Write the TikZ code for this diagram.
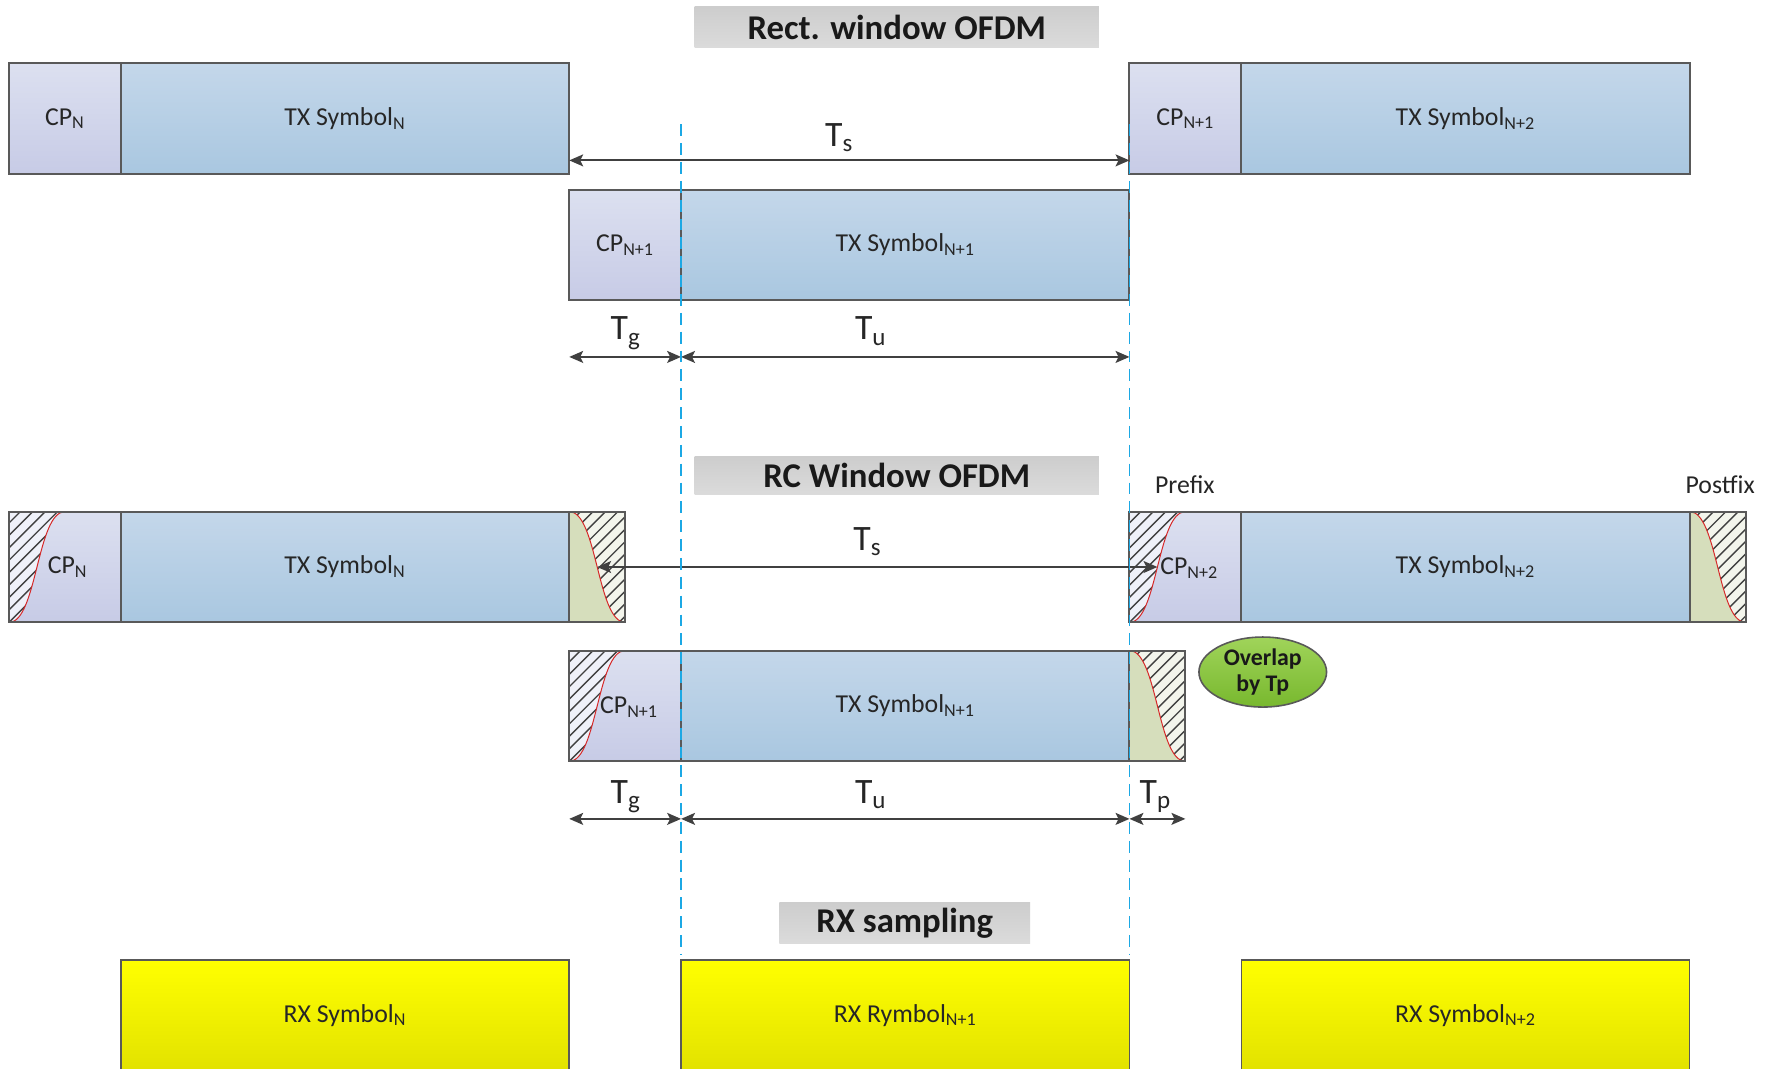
\documentclass[tikz,border=0pt]{standalone}
\usepackage{fontspec}
\setmainfont{Carlito}
\usetikzlibrary{arrows.meta,shapes.geometric}

% palette
\definecolor{cpTop}{RGB}{220,224,240}
\definecolor{cpBot}{RGB}{199,203,230}
\definecolor{symTop}{RGB}{196,215,234}
\definecolor{symBot}{RGB}{169,199,224}
\definecolor{tailGreen}{RGB}{214,222,188}
\definecolor{hatchBgA}{RGB}{239,241,249}
\definecolor{hatchBgB}{RGB}{243,245,236}
\definecolor{edgeGray}{RGB}{89,89,89}
\definecolor{dimGray}{RGB}{64,64,64}
\definecolor{guideBlue}{RGB}{28,168,228}
\definecolor{rxTop}{RGB}{255,255,0}
\definecolor{rxBot}{RGB}{226,226,0}
\definecolor{headTop}{RGB}{205,205,205}
\definecolor{headBot}{RGB}{219,219,219}
\definecolor{ovlTop}{RGB}{160,212,90}
\definecolor{ovlBot}{RGB}{120,184,46}
\definecolor{curveRed}{RGB}{214,40,40}

\newcommand\lowsub[1]{\textsubscript{#1}}

\tikzset{
  segment/.style 2 args={inner sep=0pt, outer sep=0pt, anchor=north west,
      minimum width=#1*0.2mm, minimum height=#2*0.2mm,
      font=\fontsize{13}{15}\selectfont, text=black!85},
  cpseg/.style={top color=cpTop, bottom color=cpBot},
  symseg/.style={top color=symTop, bottom color=symBot},
  rxseg/.style={top color=rxTop, bottom color=rxBot, draw=edgeGray, line width=0.8pt},
  frame/.style={draw=edgeGray, line width=1pt},
  heading/.style 2 args={top color=headTop, bottom color=headBot, inner sep=0pt,
      minimum width=#1*0.2mm, minimum height=#2*0.2mm,
      font=\fontsize{17.5}{20}\selectfont\bfseries, text=black!90},
  lab/.style={inner sep=0pt, font=\fontsize{13}{15}\selectfont, text=black!85},
  dimlabel/.style={inner sep=0pt, anchor=base, font=\fontsize{18}{20}\selectfont, text=black!85},
  dimarrow/.style={draw=dimGray, line width=1pt, >={Stealth[length=7pt,width=6pt,inset=1.5pt]}, <->},
  guide/.style={draw=guideBlue, line width=0.9pt, dash pattern=on 6pt off 3.5pt},
  hatch/.style={draw=dimGray, line width=0.7pt},
  wcurve/.style={draw=curveRed, line width=0.5pt},
}

% rising raised-cosine edge (prefix): left x, top y
\newcommand\rampup[2]{%
  \begin{scope}
    \clip (#1,#2+98) .. controls (#1+24.75,#2+98) and (#1+24.75,#2) .. (#1+49.5,#2) -- (#1,#2) -- cycle;
    \fill[hatchBgA] (#1,#2) rectangle (#1+49.5,#2+98);
    \foreach \k in {0,...,15} \draw[hatch] (#1-110+\k*11,#2+98) -- ++(110,-110);
  \end{scope}
  \draw[wcurve] (#1,#2+98) .. controls (#1+24.75,#2+98) and (#1+24.75,#2) .. (#1+49.5,#2);
}

% falling raised-cosine edge (postfix): left x, top y
\newcommand\rampdown[2]{%
  \fill[tailGreen] (#1,#2) .. controls (#1+24.75,#2) and (#1+24.75,#2+98) .. (#1+49.5,#2+98) -- (#1,#2+98) -- cycle;
  \begin{scope}
    \clip (#1,#2) .. controls (#1+24.75,#2) and (#1+24.75,#2+98) .. (#1+49.5,#2+98) -- (#1+49.5,#2) -- cycle;
    \fill[hatchBgB] (#1,#2) rectangle (#1+49.5,#2+98);
    \foreach \k in {0,...,15} \draw[hatch] (#1-110+\k*11,#2+98) -- ++(110,-110);
  \end{scope}
  \draw[wcurve] (#1,#2) .. controls (#1+24.75,#2) and (#1+24.75,#2+98) .. (#1+49.5,#2+98);
}

\begin{document}
\begin{tikzpicture}[x=0.2mm,y=-0.2mm]
\useasboundingbox (0,0) rectangle (1568,946);
\clip (0,0) rectangle (1568,946);
\fill[white] (0,0) rectangle (1568,946);

% ---------------- rectangular window ----------------
\node[heading={358}{36}] (hRect) at (794,24) {Rect. window OFDM};

\node[segment={99}{98},cpseg] (cpA1) at (8,56) {CP\lowsub{N}};
\node[segment={397}{98},symseg] (symA1) at (107,56) {TX Symbol\lowsub{N}};
\node[segment={99}{98},cpseg] (cpA3) at (1000,56) {CP\lowsub{N+1}};
\node[segment={397}{98},symseg] (symA3) at (1099,56) {TX Symbol\lowsub{N+2}};
\node[segment={99}{98},cpseg] (cpB) at (504,168) {CP\lowsub{N+1}};
\node[segment={397}{98},symseg] (symB) at (603,168) {TX Symbol\lowsub{N+1}};
\foreach \n in {cpA1,symA1,cpA3,symA3,cpB,symB}
  \draw[frame] (\n.north west) rectangle (\n.south east);

\coordinate (tsA0) at (504,142);
\coordinate (tsA1) at (1000,142);
\draw[dimarrow] (tsA0) -- (tsA1);
\node[dimlabel] (tsAl) at (743,130) {T\lowsub{s}};

\coordinate (tgB0) at (504,316);
\coordinate (tgB1) at (603,316);
\coordinate (tuB1) at (1000,316);
\draw[dimarrow] (tgB0) -- (tgB1);
\draw[dimarrow] (tgB1) -- (tuB1);
\node[dimlabel] (tgBl) at (554,301) {T\lowsub{g}};
\node[dimlabel] (tuBl) at (771,301) {T\lowsub{u}};

% ---------------- raised-cosine window ----------------
\node[heading={358}{34}] (hRC) at (794,421) {RC Window OFDM};
\node[lab,anchor=base] (pre) at (1049,437) {Prefix};
\node[lab,anchor=base] (post) at (1523,437) {Postfix};

% first row
\node[segment={99}{98},cpseg] (cpC1) at (8,453) {};
\node[segment={397}{98},symseg] (symC1) at (107,453) {TX Symbol\lowsub{N}};
\node[segment={49.5}{98}] (postC1) at (504,453) {};
\node[segment={99}{98},cpseg] (cpC3) at (1000,453) {};
\node[segment={397}{98},symseg] (symC3) at (1099,453) {TX Symbol\lowsub{N+2}};
\node[segment={49.5}{98}] (postC3) at (1496,453) {};
\rampup{8}{453}
\rampdown{504}{453}
\rampup{1000}{453}
\rampdown{1496}{453}
\foreach \n in {cpC1,symC1,postC1,cpC3,symC3,postC3}
  \draw[frame] (\n.north west) rectangle (\n.south east);
\node[lab] (cpC1t) at (60,502) {CP\lowsub{N}};
\node[lab] (cpC3t) at (1053,503) {CP\lowsub{N+2}};

\coordinate (tsC0) at (528.75,502);
\coordinate (tsC1) at (1024.75,502);
\draw[dimarrow] (tsC0) -- (tsC1);
\node[dimlabel] (tsCl) at (768,487) {T\lowsub{s}};

% second row
\node[segment={99}{98},cpseg] (cpD) at (504,576) {};
\node[segment={397}{98},symseg] (symD) at (603,576) {TX Symbol\lowsub{N+1}};
\node[segment={49.5}{98}] (postD) at (1000,576) {};
\rampup{504}{576}
\rampdown{1000}{576}
\foreach \n in {cpD,symD,postD}
  \draw[frame] (\n.north west) rectangle (\n.south east);
\node[lab] (cpDt) at (557,626) {CP\lowsub{N+1}};

\node[ellipse, draw=edgeGray, line width=0.8pt, top color=ovlTop, bottom color=ovlBot,
      minimum width=113*0.2mm, minimum height=62*0.2mm, inner sep=0pt, align=center,
      font=\fontsize{12}{13.4}\selectfont\bfseries, text=black!90] (ovl) at (1118,595) {Overlap\\by Tp};

\coordinate (tgD0) at (504,725);
\coordinate (tgD1) at (603,725);
\coordinate (tuD1) at (1000,725);
\coordinate (tpD1) at (1049.5,725);
\draw[dimarrow] (tgD0) -- (tgD1);
\draw[dimarrow] (tgD1) -- (tuD1);
\draw[dimarrow] (tuD1) -- (tpD1);
\node[dimlabel] (tgDl) at (554,711) {T\lowsub{g}};
\node[dimlabel] (tuDl) at (771,711) {T\lowsub{u}};
\node[dimlabel] (tpDl) at (1023,711) {T\lowsub{p}};

% ---------------- receiver sampling ----------------
\node[heading={222}{36}] (hRX) at (801,817) {RX sampling};
\node[segment={397}{98},rxseg] (rxN) at (107,850) {RX Symbol\lowsub{N}};
\node[segment={397}{98},rxseg] (rxN1) at (603,850) {RX Rymbol\lowsub{N+1}};
\node[segment={397}{98},rxseg] (rxN2) at (1099,850) {RX Symbol\lowsub{N+2}};

% sampling window guides
\coordinate (gL0) at (603,110);
\coordinate (gL1) at (603,845);
\coordinate (gR0) at (1000,110);
\coordinate (gR1) at (1000,845);
\draw[guide] (gL0) -- (gL1);
\draw[guide] (gR0) -- (gR1);
\end{tikzpicture}
\end{document}
